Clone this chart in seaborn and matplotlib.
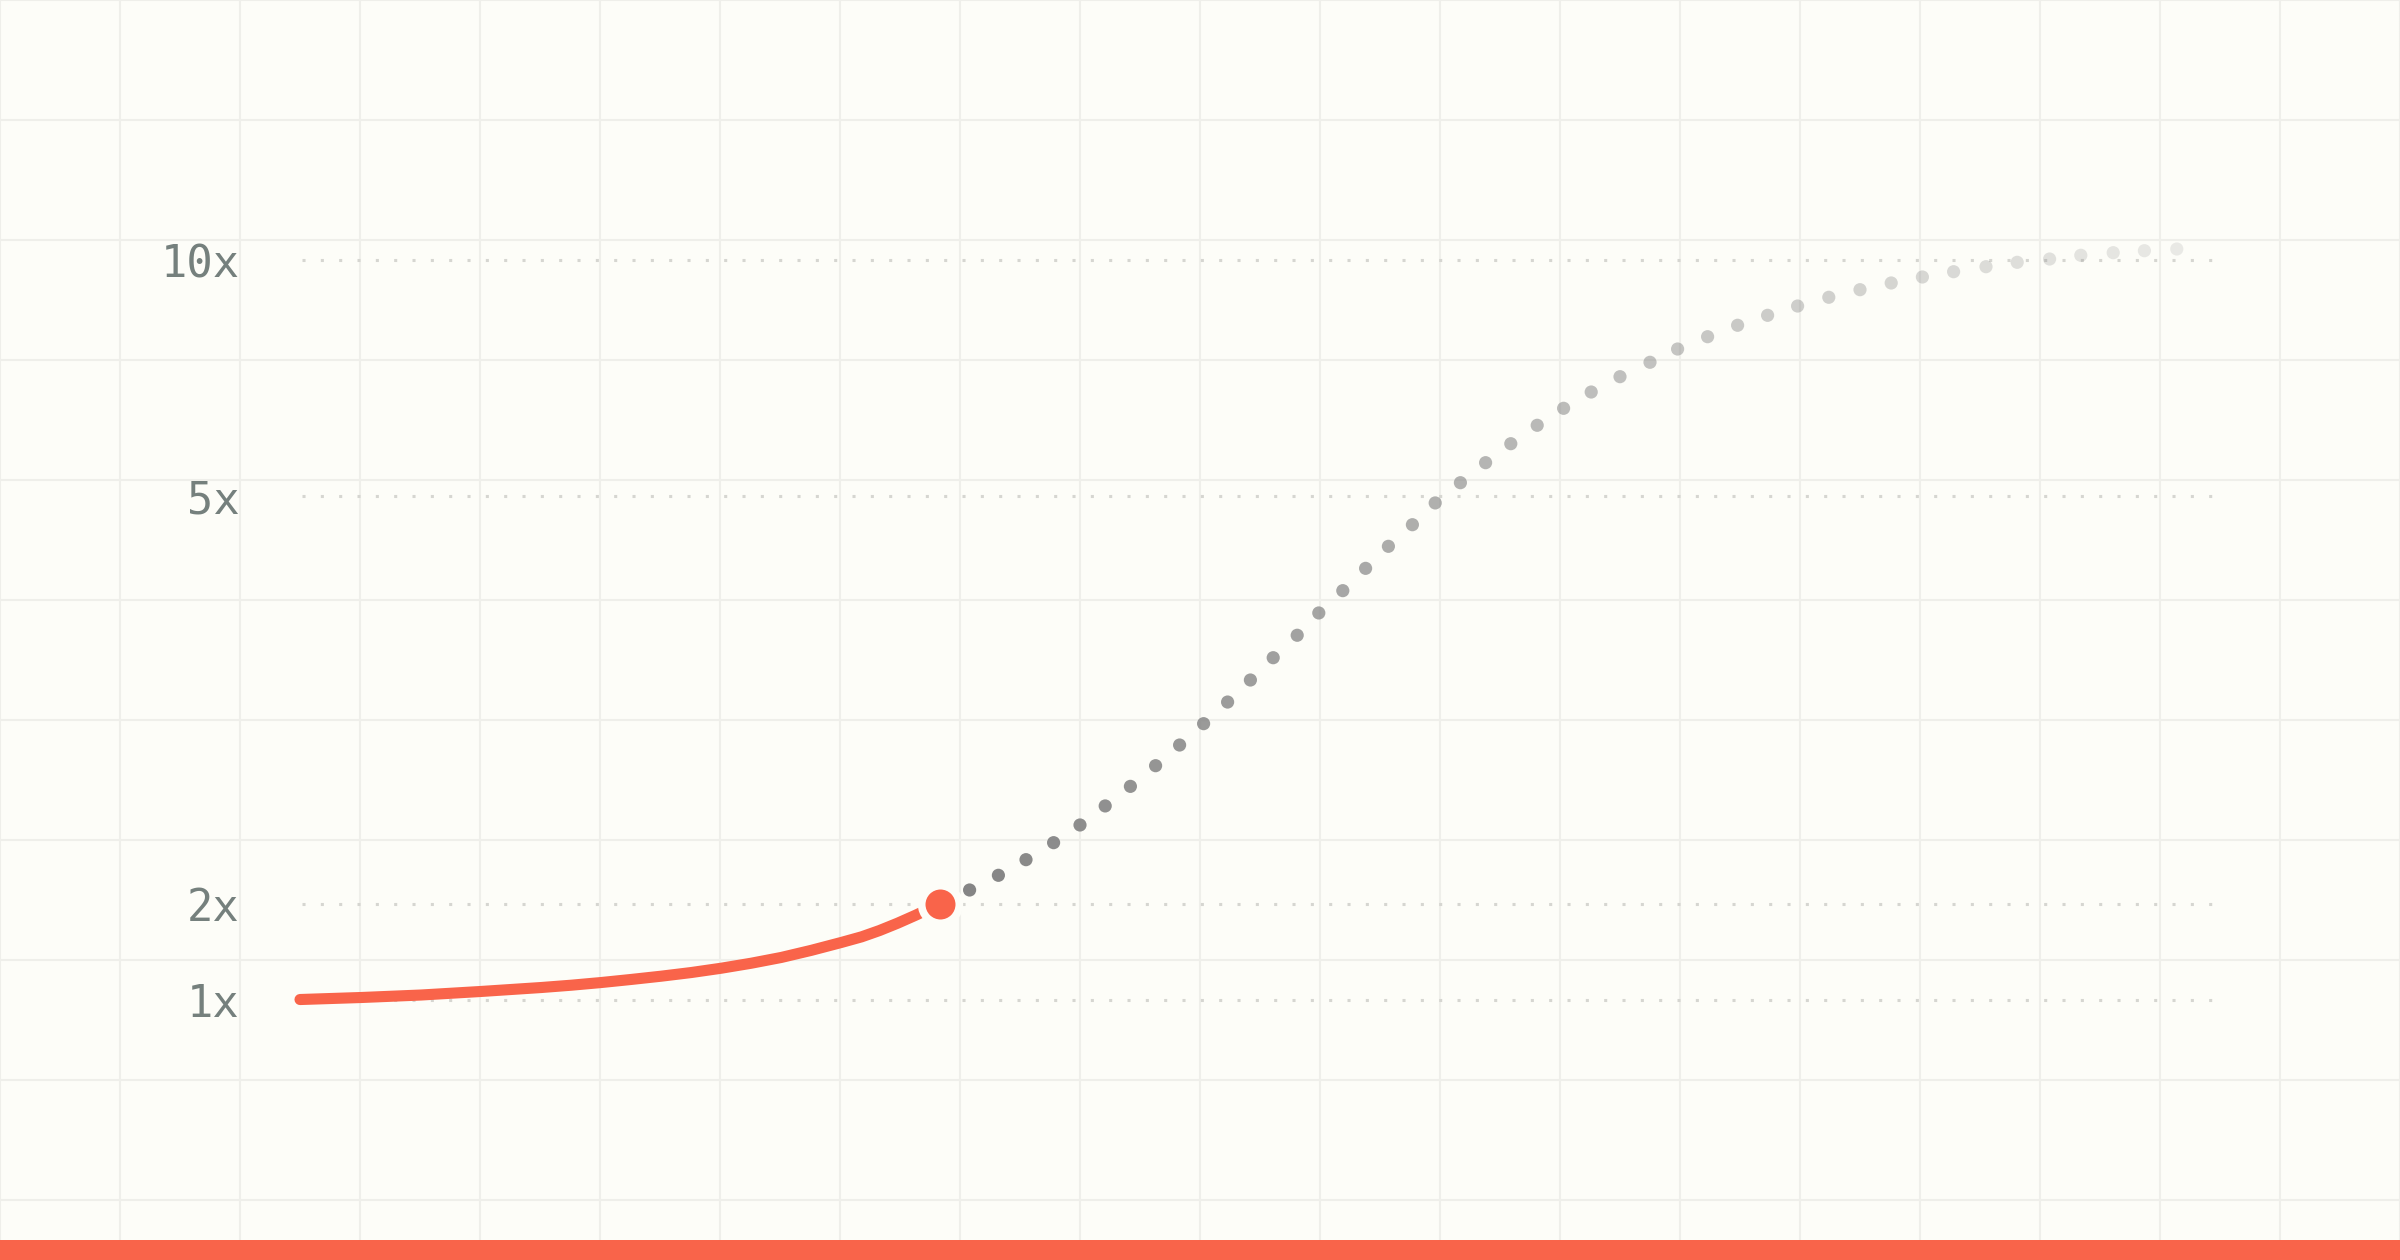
import numpy as np
import seaborn as sns
import matplotlib.pyplot as plt
from matplotlib.colors import to_rgba

# Multiplier labels on the y axis
MULTIPLES = [1, 2, 5, 10]
MULT_LABELS = ["1x", "2x", "5x", "10x"]

# Achieved growth (solid orange curve), x in grid cells
CURVE_X = [2.50, 3.01, 3.51, 4.01, 4.51, 4.76, 5.01, 5.26, 5.51, 5.76,
           6.01, 6.26, 6.51, 6.76, 7.01, 7.18, 7.33, 7.48, 7.63, 7.73, 7.83]
CURVE_Y = [1.005, 1.026, 1.052, 1.089, 1.130, 1.154, 1.182, 1.214, 1.248, 1.286,
           1.331, 1.383, 1.443, 1.517, 1.599, 1.658, 1.724, 1.800, 1.883, 1.942, 2.000]

# Projected growth (fading gray dots)
PROJ_X = [8.08, 8.32, 8.55, 8.78, 9.00, 9.21, 9.42, 9.63, 9.83, 10.03,
          10.23, 10.42, 10.61, 10.81, 10.99, 11.19, 11.38, 11.57, 11.77, 11.96,
          12.17, 12.38, 12.59, 12.81, 13.03, 13.26, 13.50, 13.75, 13.98, 14.23,
          14.48, 14.73, 14.98, 15.24, 15.50, 15.76, 16.02, 16.28, 16.55, 16.81,
          17.08, 17.34, 17.61, 17.87, 18.14]
PROJ_Y = [2.103, 2.211, 2.326, 2.451, 2.581, 2.721, 2.865, 3.017, 3.169, 3.326,
          3.485, 3.647, 3.811, 3.976, 4.140, 4.304, 4.468, 4.630, 4.789, 4.949,
          5.282, 5.706, 6.108, 6.498, 6.858, 7.203, 7.528, 7.833, 8.114, 8.375,
          8.617, 8.828, 9.025, 9.210, 9.371, 9.513, 9.640, 9.752, 9.858, 9.951,
          10.021, 10.100, 10.155, 10.197, 10.233]

BG = "#fdfdf8"
GRID = "#efefea"
ORANGE = "#f9644a"
GRAY = "#858585"
LABEL = "#75807d"

W, H = 2400, 1260

# piecewise linear multiplier -> pixel height mapping used by the y axis
KNOT_M = np.array([1.0, 2.0, 5.0, 10.0])
KNOT_H = np.array([260.0, 356.0, 764.0, 1000.0])
S_LO = (KNOT_H[1] - KNOT_H[0]) / (KNOT_M[1] - KNOT_M[0])
S_HI = (KNOT_H[-1] - KNOT_H[-2]) / (KNOT_M[-1] - KNOT_M[-2])


def forward(m):
    m = np.asarray(m, dtype=float)
    h = np.interp(m, KNOT_M, KNOT_H)
    h = np.where(m < KNOT_M[0], KNOT_H[0] + (m - KNOT_M[0]) * S_LO, h)
    h = np.where(m > KNOT_M[-1], KNOT_H[-1] + (m - KNOT_M[-1]) * S_HI, h)
    return h


def inverse(h):
    h = np.asarray(h, dtype=float)
    m = np.interp(h, KNOT_H, KNOT_M)
    m = np.where(h < KNOT_H[0], KNOT_M[0] + (h - KNOT_H[0]) / S_LO, m)
    m = np.where(h > KNOT_H[-1], KNOT_M[-1] + (h - KNOT_H[-1]) / S_HI, m)
    return m


sns.set_theme(style="white", rc={"figure.facecolor": BG, "axes.facecolor": BG})
plt.rcParams["font.family"] = ["DejaVu Sans Mono", "DejaVu Sans"]

fig = plt.figure(figsize=(W / 100, H / 100), dpi=100)

# background grid of square cells + orange footer bar
bg = fig.add_axes([0, 0, 1, 1])
bg.set_xlim(0, W / 120)
bg.set_ylim(0, H / 120)
bg.set_xticks(np.arange(0, 21, 1))
bg.set_yticks(np.arange(0.5, 11, 1))
bg.grid(True, color=GRID, linewidth=1.5)
bg.set_axisbelow(True)
bg.tick_params(length=0, labelbottom=False, labelleft=False)
for sp in bg.spines.values():
    sp.set_visible(False)
bg.axhspan(0, 20 / 120, color=ORANGE, zorder=3, linewidth=0)

# chart layer
ax = fig.add_axes([0, 0, 1, 1])
ax.patch.set_alpha(0)
ax.set_yscale("function", functions=(forward, inverse))
ax.set_xlim(0, W / 120)
ax.set_ylim(float(inverse(0)), float(inverse(H)))

# dotted reference lines + labels
ax.hlines(MULTIPLES, 2.52, 18.43, colors="#d6d6d1", linestyles=(0, (1, 5)),
          linewidth=2.2, zorder=1)
for m, lab in zip(MULTIPLES, MULT_LABELS):
    ax.text(1.995, m, lab, ha="right", va="center_baseline", fontsize=31.5,
            color=LABEL)

# achieved curve
sns.lineplot(x=CURVE_X, y=CURVE_Y, sort=False, color=ORANGE, ax=ax)
curve = ax.lines[-1]
curve.set_linewidth(8.0)
curve.set_solid_capstyle("round")
curve.set_solid_joinstyle("round")
curve.set_zorder(3)

# projection dots, fading out
sns.scatterplot(x=PROJ_X, y=PROJ_Y, s=90, color=GRAY, linewidth=0, ax=ax, zorder=2)
alphas = np.linspace(1.0, 0.16, len(PROJ_X))
ax.collections[-1].set_facecolor([to_rgba(GRAY, a) for a in alphas])

# current point, with a background-coloured halo cutting the curve
ax.plot([CURVE_X[-1]], [CURVE_Y[-1]], "o", ms=27.1, mfc=ORANGE, mec=BG, mew=5.5,
        zorder=5)

ax.set_axis_off()

fig.savefig("out.png", dpi=100, facecolor=BG)
